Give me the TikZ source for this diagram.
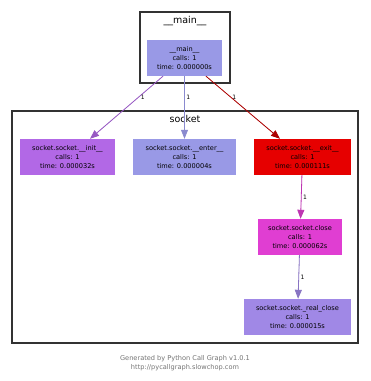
\documentclass[tikz,border=0pt]{standalone}
\usepackage{fontspec}
\setmainfont{DejaVu Sans}
\usetikzlibrary{arrows.meta,positioning,calc}

\definecolor{lavblue}{RGB}{153,153,230}
\definecolor{initpurple}{RGB}{178,104,230}
\definecolor{exitred}{RGB}{230,0,0}
\definecolor{closepink}{RGB}{224,62,210}
\definecolor{realpurple}{RGB}{160,136,230}
\definecolor{clusterline}{RGB}{50,50,50}

\begin{document}
\begin{tikzpicture}[x=1pt, y=-1pt,
    func/.style={minimum width=#1, minimum height=36pt, inner sep=0pt, align=center, font=\fontsize{6.6}{8.8}\selectfont, text=black},
    cluster/.style={draw=clusterline, line width=1.6pt},
    ctitle/.style={font=\fontsize{9.5}{11}\selectfont, inner sep=0pt},
    arr/.style={-{Triangle[length=9pt, width=7pt]}, line width=0.8pt},
    cnt/.style={font=\fontsize{6}{6}\selectfont, inner sep=1.5pt},
    foot/.style={font=\fontsize{6.6}{8.5}\selectfont, text=black!55, align=center}
]
\useasboundingbox[fill=white] (0,0) rectangle (371,381);

% clusters
\draw[cluster] (140,12) rectangle (230,83);
\node[ctitle] (maintitle) at (185,21) {\_\_main\_\_};
\draw[cluster] (12,111) rectangle (358,343);
\node[ctitle] (sockettitle) at (185,119) {socket};

% functions
\node[func=75pt, fill=lavblue] (main) at (184.5,58) {\_\_main\_\_\\calls: 1\\time: 0.000000s};
\node[func=95pt, fill=initpurple] (init) at (67.5,157) {socket.socket.\_\_init\_\_\\calls: 1\\time: 0.000032s};
\node[func=103pt, fill=lavblue] (enter) at (184.5,157) {socket.socket.\_\_enter\_\_\\calls: 1\\time: 0.000004s};
\node[func=97pt, fill=exitred] (exit) at (302.5,157) {socket.socket.\_\_exit\_\_\\calls: 1\\time: 0.000111s};
\node[func=84pt, fill=closepink] (close) at (300,237) {socket.socket.close\\calls: 1\\time: 0.000062s};
\node[func=107pt, fill=realpurple] (realclose) at (297.5,317) {socket.socket.\_real\_close\\calls: 1\\time: 0.000015s};

% edge ends off the node centres
\coordinate (mainl) at ($(main.south)+(-21.5,0)$);
\coordinate (mainr) at ($(main.south)+(21.5,0)$);
\coordinate (initin) at ($(init.north)+(22.5,0)$);
\coordinate (exitin) at ($(exit.north)+(-22.5,0)$);

% calls
\draw[arr, draw=initpurple!85!black, fill=initpurple!85!black] (mainl) -- node[cnt, pos=0.33, right] {1} (initin);
\draw[arr, draw=lavblue!90!black, fill=lavblue!90!black] (main) -- node[cnt, pos=0.33, right] {1} (enter);
\draw[arr, draw=exitred!75!black, fill=exitred!75!black] (mainr) -- node[cnt, pos=0.33, right] {1} (exitin);
\draw[arr, draw=closepink!85!black, fill=closepink!85!black] (exit) -- node[cnt, right] {1} (close);
\draw[arr, draw=realpurple!85!black, fill=realpurple!85!black] (close) -- node[cnt, right] {1} (realclose);

% footer
\node[foot] (footer) at (185,363) {Generated by Python Call Graph v1.0.1\\http://pycallgraph.slowchop.com};
\end{tikzpicture}
\end{document}
